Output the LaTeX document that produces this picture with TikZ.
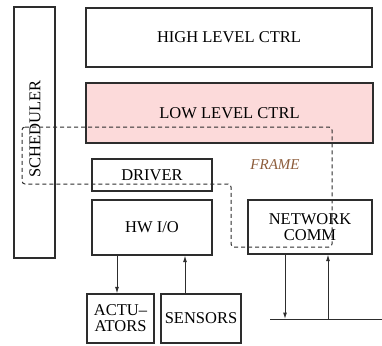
\documentclass[tikz,border=0pt]{standalone}
\usepackage{fontspec}
\setmainfont{Liberation Serif}
\usepackage{tikz}
\usetikzlibrary{
  arrows.meta,
  positioning,
  calc
}
\definecolor{llPink}{RGB}{252,218,218}
\definecolor{frameBrown}{RGB}{140,92,58}
\definecolor{lnGray}{RGB}{45,45,45}

\tikzset{
  blk/.style={draw=lnGray, line width=1.1pt, inner sep=1pt, align=center,
    font=\fontsize{16.5}{16}\selectfont},
  sig/.style={draw=lnGray, line width=1pt, -{Latex[length=6.5pt,width=4pt]}},
  frm/.style={draw=lnGray, line width=1pt, dash pattern=on 4pt off 3pt, rounded corners=3pt}
}

\begin{document}
\begin{tikzpicture}[x=1pt,y=-1pt]
  \useasboundingbox (0,0) rectangle (382,345);
  % scheduler
  \node[blk, minimum width=41pt, minimum height=251pt] (sched) at (34.5,132.5) {};
  \node[font=\fontsize{16.5}{16}\selectfont, rotate=90] (schedtxt) at (35,129) {SCHEDULER};
  % control layers
  \node[blk, minimum width=286pt, minimum height=59pt] (high) at (229,37.5) {HIGH LEVEL CTRL};
  \node[blk, fill=llPink, minimum width=287pt, minimum height=60pt] (low) at (229.5,113) {LOW LEVEL CTRL};
  % driver and hardware
  \node[blk, minimum width=120pt, minimum height=32pt] (driver) at (152,175) {DRIVER};
  \node[blk, minimum width=120pt, minimum height=55pt] (hwio) at (152,227.5) {HW I/O};
  \node[blk, minimum width=124pt, minimum height=54pt] (net) at (310,227) {NETWORK\\COMM};
  \node[blk, minimum width=67pt, minimum height=49pt] (act) at (120.5,318.5) {ACTU--\\ATORS};
  \node[blk, minimum width=80pt, minimum height=49pt] (sens) at (201,318.5) {SENSORS};
  % bus
  \coordinate (busL) at (270,319);
  \coordinate (busR) at (382,319);
  \draw[draw=lnGray, line width=1pt] (busL) -- (busR);
  % signals
  \coordinate (a1) at (117,255);
  \coordinate (s1) at (185,294);
  \coordinate (n1) at (285,254);
  \coordinate (n2) at (328,319);
  \draw[sig] (a1) -- (a1 |- act.north);
  \draw[sig] (s1) -- (s1 |- hwio.south);
  \draw[sig] (n1) -- (n1 |- busL);
  \draw[sig] (n2) -- (n2 |- net.south);
  % frame
  \draw[frm] (22,127) -- (332,127) -- (332,247) -- (231,247) -- (231,184) -- (22,184) -- cycle;
  \node[font=\fontsize{15}{15}\selectfont\itshape, text=frameBrown] (frame) at (275,165) {FRAME};
\end{tikzpicture}
\end{document}
